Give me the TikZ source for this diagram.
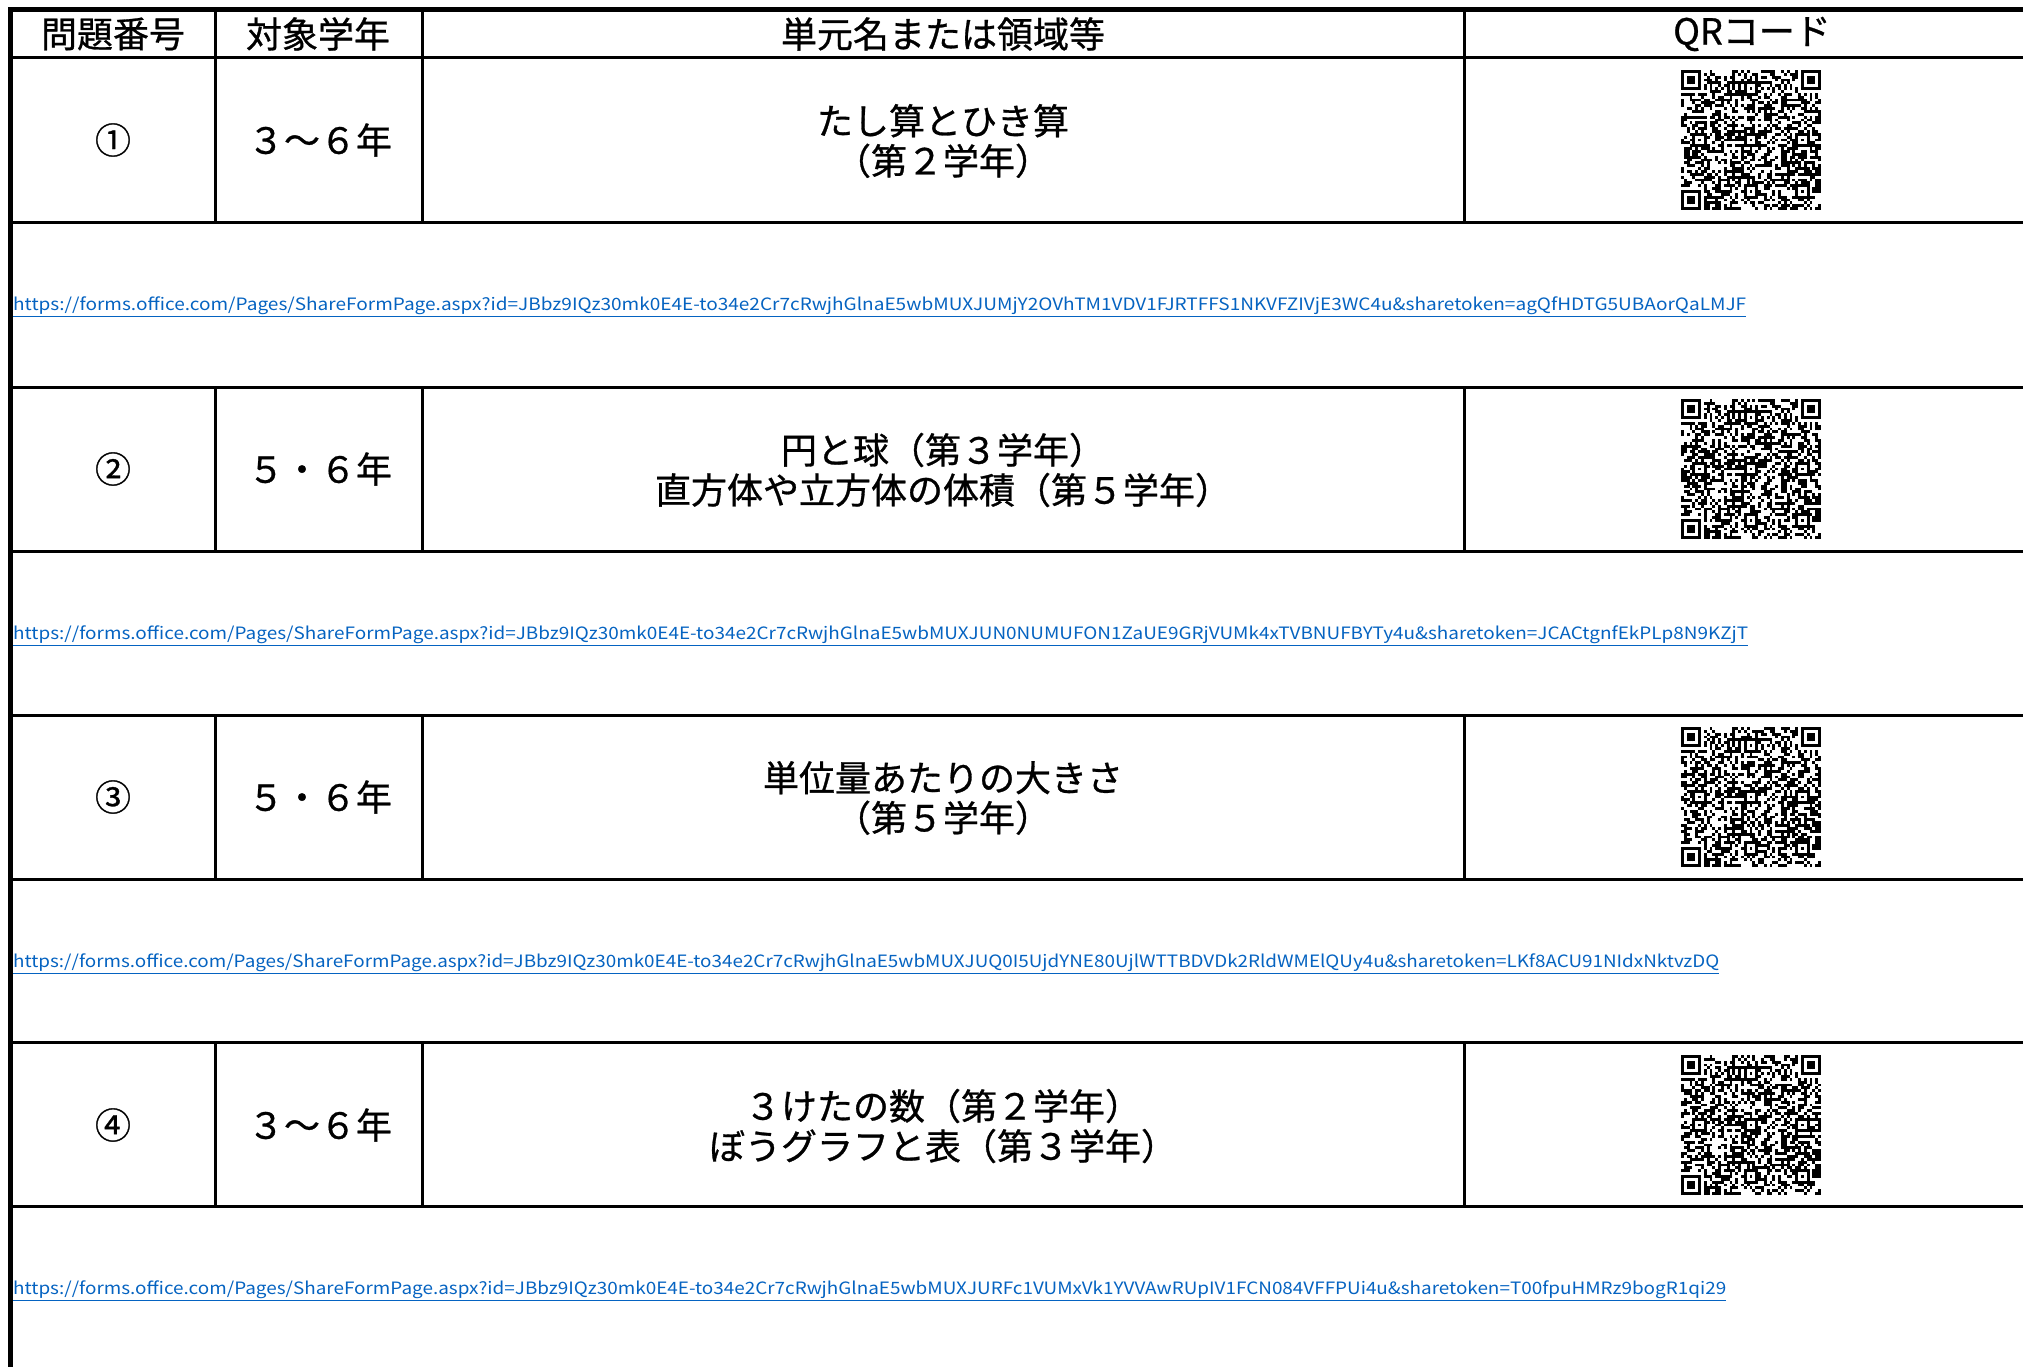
\documentclass[tikz,border=0pt]{standalone}
\usepackage{fontspec}
\usepackage{graphicx}
\usepackage{qrcode}
\setmainfont{Noto Sans CJK JP}[UprightFeatures={FakeBold=0.8}]
\newfontfamily\linkfont{Noto Sans CJK JP}
\usetikzlibrary{positioning}
\definecolor{linkblue}{HTML}{0563C1}

\begin{document}
\begin{tikzpicture}[x=1pt, y=-1pt,
    every node/.style={inner sep=0pt, font=\fontsize{36}{40}\selectfont},
    cell/.style={align=center},
    link/.style={anchor=west, text=linkblue, font=\linkfont\fontsize{17}{20}\selectfont},
    qrbox/.style={},
    frame/.style={line width=5pt},
    tablerule/.style={line width=3pt} ]
    \useasboundingbox (0,0) rectangle (2023,1367);
    % table lines
    \draw[frame] (10,1367) -- (10,10) -- (2023,10);
    \foreach \y in {58,222,387,551,715,879,1042,1206}
        \draw[tablerule] (10,\y) -- (2023,\y);
    \foreach \ya/\yb in {10/222,387/551,715/879,1042/1206}
        \foreach \x in {215,422,1464}
            \draw[tablerule] (\x,\ya) -- (\x,\yb);
    % header
    \node[cell] (hno) at (113,34) {問題番号};
    \node[cell] (hgrade) at (318,34) {対象学年};
    \node[cell] (hunit) at (943,34) {単元名または領域等};
    \node[cell] (hqr) at (1752,34) {QRコード};
    % row 1
    \node[cell] (no1) at (113,140) {①};
    \node[cell] (grade1) at (320,140) {３～６年};
    \node[cell] (unit1) at (943,141) {たし算とひき算\\（第２学年）};
    \node[qrbox] (qr1) at (1751,140) {\qrcode[height=140pt,level=L]{https://forms.office.com/Pages/ShareFormPage.aspx?id=JBbz9IQz30mk0E4E-to34e2Cr7cRwjhGlnaE5wbMUXJUMjY2OVhTM1VDV1FJRTFFS1NKVFZIVjE3WC4u\&sharetoken=agQfHDTG5UBAorQaLMJF}};
    \node[link] (url1) at (13,307) {\resizebox{1733pt}{\height}{\underline{https://forms.office.com/Pages/ShareFormPage.aspx?id=JBbz9IQz30mk0E4E-to34e2Cr7cRwjhGlnaE5wbMUXJUMjY2OVhTM1VDV1FJRTFFS1NKVFZIVjE3WC4u\&sharetoken=agQfHDTG5UBAorQaLMJF}}};
    % row 2
    \node[cell] (no2) at (113,469) {②};
    \node[cell] (grade2) at (320,469) {５・６年};
    \node[cell] (unit2) at (943,470) {円と球（第３学年）\\直方体や立方体の体積（第５学年）};
    \node[qrbox] (qr2) at (1751,469) {\qrcode[height=140pt,level=L]{https://forms.office.com/Pages/ShareFormPage.aspx?id=JBbz9IQz30mk0E4E-to34e2Cr7cRwjhGlnaE5wbMUXJUN0NUMUFON1ZaUE9GRjVUMk4xTVBNUFBYTy4u\&sharetoken=JCACtgnfEkPLp8N9KZjT}};
    \node[link] (url2) at (13,636) {\resizebox{1735pt}{\height}{\underline{https://forms.office.com/Pages/ShareFormPage.aspx?id=JBbz9IQz30mk0E4E-to34e2Cr7cRwjhGlnaE5wbMUXJUN0NUMUFON1ZaUE9GRjVUMk4xTVBNUFBYTy4u\&sharetoken=JCACtgnfEkPLp8N9KZjT}}};
    % row 3
    \node[cell] (no3) at (113,797) {③};
    \node[cell] (grade3) at (320,797) {５・６年};
    \node[cell] (unit3) at (943,798) {単位量あたりの大きさ\\（第５学年）};
    \node[qrbox] (qr3) at (1751,797) {\qrcode[height=140pt,level=L]{https://forms.office.com/Pages/ShareFormPage.aspx?id=JBbz9IQz30mk0E4E-to34e2Cr7cRwjhGlnaE5wbMUXJUQ0I5UjdYNE80UjlWTTBDVDk2RldWMElQUy4u\&sharetoken=LKf8ACU91NIdxNktvzDQ}};
    \node[link] (url3) at (13,964) {\resizebox{1706pt}{\height}{\underline{https://forms.office.com/Pages/ShareFormPage.aspx?id=JBbz9IQz30mk0E4E-to34e2Cr7cRwjhGlnaE5wbMUXJUQ0I5UjdYNE80UjlWTTBDVDk2RldWMElQUy4u\&sharetoken=LKf8ACU91NIdxNktvzDQ}}};
    % row 4
    \node[cell] (no4) at (113,1125) {④};
    \node[cell] (grade4) at (320,1125) {３～６年};
    \node[cell] (unit4) at (943,1126) {３けたの数（第２学年）\\ぼうグラフと表（第３学年）};
    \node[qrbox] (qr4) at (1751,1125) {\qrcode[height=140pt,level=L]{https://forms.office.com/Pages/ShareFormPage.aspx?id=JBbz9IQz30mk0E4E-to34e2Cr7cRwjhGlnaE5wbMUXJURFc1VUMxVk1YVVAwRUpIV1FCN084VFFPUi4u\&sharetoken=T00fpuHMRz9bogR1qi29}};
    \node[link] (url4) at (13,1291) {\resizebox{1713pt}{\height}{\underline{https://forms.office.com/Pages/ShareFormPage.aspx?id=JBbz9IQz30mk0E4E-to34e2Cr7cRwjhGlnaE5wbMUXJURFc1VUMxVk1YVVAwRUpIV1FCN084VFFPUi4u\&sharetoken=T00fpuHMRz9bogR1qi29}}};
\end{tikzpicture}
\end{document}
